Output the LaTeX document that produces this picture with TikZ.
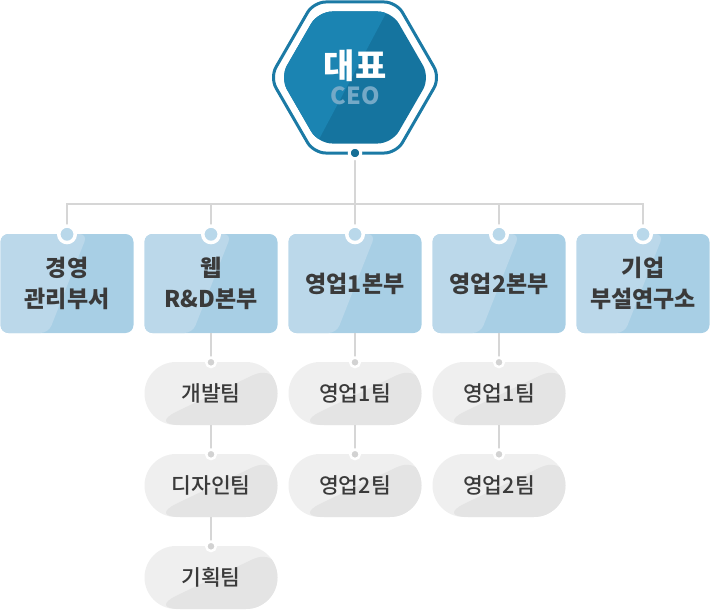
\documentclass[tikz,border=0pt]{standalone}
\usepackage{fontspec}
\setmainfont{Noto Sans CJK KR}
\newfontfamily\krmed{Noto Sans CJK KR Medium}
\usetikzlibrary{calc}
\definecolor{hexline}{HTML}{1B7AA5}
\definecolor{hexL}{HTML}{1B84B2}
\definecolor{hexR}{HTML}{15749F}
\definecolor{hexdot}{HTML}{176F96}
\definecolor{ceotxt}{HTML}{74A9C7}
\definecolor{boxL}{HTML}{BBD8EA}
\definecolor{boxR}{HTML}{A8CFE5}
\definecolor{bdot}{HTML}{B9D8EA}
\definecolor{pillL}{HTML}{EFEFEF}
\definecolor{pillR}{HTML}{E4E4E4}
\definecolor{pdot}{HTML}{D2D2D2}
\definecolor{conncol}{HTML}{D6D6D6}
\definecolor{txt}{HTML}{3A3A3A}
\tikzset{
  dept/.style={rectangle, rounded corners=8pt, minimum width=133pt, minimum height=99pt,
    inner sep=0pt, fill=boxR, text=txt, align=center,
    font=\bfseries\fontsize{23}{31}\selectfont,
    path picture={\fill[boxL] (path picture bounding box.south west)
      -- ([xshift=48pt]path picture bounding box.south west)
      -- ([xshift=87pt]path picture bounding box.north west)
      -- (path picture bounding box.north west) -- cycle;}},
  team/.style={rectangle, rounded corners=31.5pt, minimum width=133pt, minimum height=63pt,
    inner sep=0pt, fill=pillL, text=txt, align=center,
    font=\krmed\fontsize{21.5}{24}\selectfont,
    path picture={\fill[pillR] ([xshift=4pt]path picture bounding box.south west)
      -- ([xshift=3pt]path picture bounding box.north east)
      -- (path picture bounding box.south east) -- cycle;}},
  conn/.style={draw=conncol, line width=2pt},
  topdot/.style={circle, fill=bdot, draw=white, line width=3.5pt, minimum size=16.5pt, inner sep=0pt},
  teamdot/.style={circle, fill=pdot, draw=white, line width=2.5pt, minimum size=9.5pt, inner sep=0pt},
  ceodotstyle/.style={circle, fill=hexdot, draw=white, line width=3pt, minimum size=11.5pt, inner sep=0pt},
}
\begin{document}
\begin{tikzpicture}[x=1pt,y=-1pt]
\useasboundingbox (0,0) rectangle (710,610);
% CEO hexagon
\draw[hexline, line width=3pt, rounded corners=12pt]
  (313.6,2) -- (396.4,2) -- (440,77.5) -- (396.4,153) -- (313.6,153) -- (270,77.5) -- cycle;
\begin{scope}
  \clip[rounded corners=14pt] (318.1,11.5) -- (391.9,11.5) -- (430,77.5) -- (391.9,143.5) -- (318.1,143.5) -- (280,77.5) -- cycle;
  \fill[hexR] (260,0) rectangle (450,160);
  \fill[hexL] (260,0) -- (393,0) -- (308,160) -- (260,160) -- cycle;
\end{scope}
\node[text=white, font=\bfseries\fontsize{34}{34}\selectfont, inner sep=0pt] (ceo) at (355,66) {대표};
\node[text=ceotxt, font=\bfseries\fontsize{23.5}{23.5}\selectfont, inner sep=0pt] (ceoen) at (355,96) {CEO};
\coordinate (ceodot) at (355,153);
\coordinate (bus) at (355,204);
% departments
\node[dept] (d1) at (67,283.5) {경영\\관리부서};
\node[dept] (d2) at (211,283.5) {웹\\R\&D본부};
\node[dept] (d3) at (355,283.5) {영업1본부};
\node[dept] (d4) at (499,283.5) {영업2본부};
\node[dept] (d5) at (643,283.5) {기업\\부설연구소};
% teams
\node[team] (t1) at (211,393.5) {개발팀};
\node[team] (t2) at (211,485.5) {디자인팀};
\node[team] (t3) at (211,577.5) {기획팀};
\node[team] (s1) at (355,393.5) {영업1팀};
\node[team] (s2) at (355,485.5) {영업2팀};
\node[team] (u1) at (499,393.5) {영업1팀};
\node[team] (u2) at (499,485.5) {영업2팀};
% connectors
\draw[conn] (ceodot) -- (bus);
\draw[conn] (d1.north) |- (bus) -| (d5.north);
\draw[conn] (d2.north) -- (d2.north |- bus);
\draw[conn] (d3.north) -- (bus);
\draw[conn] (d4.north) -- (d4.north |- bus);
\draw[conn] (d2.south) -- (t1.north);
\draw[conn] (t1.south) -- (t2.north);
\draw[conn] (t2.south) -- (t3.north);
\draw[conn] (d3.south) -- (s1.north);
\draw[conn] (s1.south) -- (s2.north);
\draw[conn] (d4.south) -- (u1.north);
\draw[conn] (u1.south) -- (u2.north);
% dots
\node[ceodotstyle] at (ceodot) {};
\foreach \n in {d1,d2,d3,d4,d5} \node[topdot] at ([yshift=-0.5pt]\n.north) {};
\foreach \n in {t1,t2,t3,s1,s2,u1,u2} \node[teamdot] at ([yshift=-0.5pt]\n.north) {};
\end{tikzpicture}
\end{document}
